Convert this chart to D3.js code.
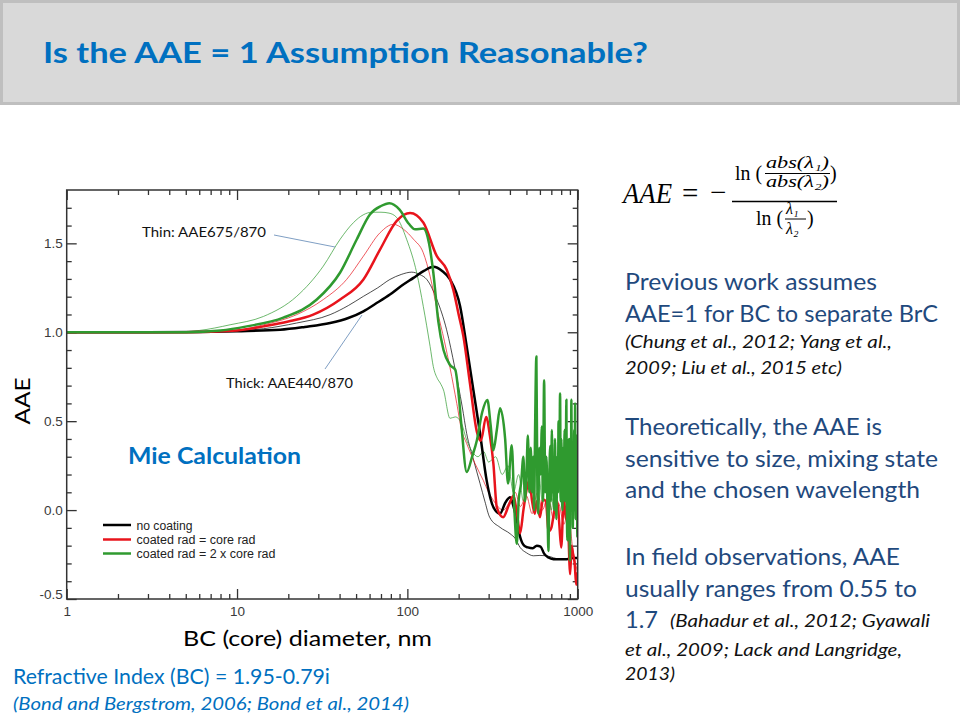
<!DOCTYPE html>
<html><head><meta charset="utf-8">
<script src="https://cdn.jsdelivr.net/npm/d3@7"></script>
<style>body{margin:0;background:#fff}svg{display:block}</style>
</head><body>
<svg id="c" width="960" height="720"></svg>
<script>
// ---------------- DATA ----------------
const xTickLabels = [1, 10, 100, 1000];
const yTickLabels = [-0.5, 0.0, 0.5, 1.0, 1.5];
const seriesNames = ["no coating", "coated rad = core rad", "coated rad = 2 x core rad"];
const seriesColors = ["#000000", "#e8141c", "#2f9a2f"];

// thick lines: AAE440/870  [diameter nm, AAE]
const noCoatThick = [[1,1.0],[3,1.0],[6,1.002],[10,1.006],[17.9,1.014],[25,1.03],[35.2,1.052],[45,1.08],[55.2,1.118],[65,1.16],[79,1.212],[92,1.26],[108.6,1.306],[125,1.345],[142,1.368],[160,1.345],[178,1.297],[204,1.146],[223,0.92],[244,0.675],[267,0.432],[292,0.167],[320,0.016],[350,-0.02],[375,0.04],[401,0.072],[420,0.02],[440,-0.06],[459,-0.15],[485,-0.2],[510,-0.21],[545,-0.215],[575,-0.2],[605,-0.205],[635,-0.245],[673,-0.267],[720,-0.276],[863,-0.276],[930,-0.27],[1000,-0.27]];
const coreThick = [[1,1.0],[5,1.0],[10,1.01],[14.3,1.033],[20,1.06],[28,1.099],[40.3,1.184],[55.2,1.297],[69.2,1.466],[86.6,1.626],[103.7,1.67],[124,1.617],[149,1.428],[170,1.353],[186,1.24],[200,1.1],[213,0.98],[233,0.713],[256,0.44],[270,0.39],[290,0.524],[305,0.42],[320,0.26],[335,0.016],[365,-0.04],[395,0.03],[420,0.08],[440,-0.02],[459,-0.13],[480,0.0],[500,0.11],[520,0.17],[540,0.05],[560,-0.02],[575,0.05],[600,-0.04],[625,0.06],[650,0.05],[675,-0.12],[700,-0.1],[730,0.0],[760,0.05],[780,-0.08],[800,-0.21],[830,0.08],[850,-0.05],[870,0.0],[903,-0.36],[920,-0.2],[940,-0.25],[960,-0.3],[980,-0.42],[1000,-0.35]];
const twoCoreThick = [[1,1.0],[5,1.0],[8,1.01],[11.4,1.033],[18.7,1.082],[29.4,1.184],[40.3,1.336],[50.5,1.523],[60.4,1.664],[70,1.71],[78.4,1.726],[90,1.69],[102,1.61],[111,1.579],[124,1.583],[134,1.5],[142,1.336],[152,1.06],[163,0.9],[178,0.816],[191,0.79],[200,0.65],[208,0.468],[223,0.214],[240,0.3],[256,0.393],[275,0.55],[295,0.619],[308,0.48],[320,0.336],[335,0.45],[350,0.572],[375,0.4],[390,0.15],[410,0.364],[425,0.0],[439,-0.19],[450,0.05],[465,0.15],[480,0.3],[490,0.05],[500,0.2],[510,0.42],[520,0.1],[530,0.35],[540,0.1],[548,0.3],[555,0.0],[562,0.45],[572,0.863],[580,0.1],[587,-0.02],[595,0.35],[605,0.2],[616,0.47],[625,0.05],[635,0.73],[645,0.1],[655,0.3],[665,0.0],[673,-0.23],[682,0.2],[690,0.36],[698,0.05],[705,0.45],[712,0.1],[720,0.3],[728,0.0],[735,0.4],[742,0.15],[750,-0.05],[758,0.3],[766,0.1],[772,0.5],[780,0.2],[788,0.656],[795,0.05],[802,0.4],[808,0.1],[815,0.0],[822,0.35],[830,0.15],[838,0.45],[845,0.05],[852,0.3],[858,0.62],[864,0.0],[870,-0.17],[876,0.3],[882,0.1],[888,0.4],[894,0.0],[900,-0.285],[906,0.25],[912,0.05],[918,0.62],[924,0.1],[930,0.35],[936,-0.1],[942,0.3],[948,0.0],[954,0.45],[960,0.1],[966,0.6],[972,-0.05],[978,0.35],[984,0.05],[990,0.42],[995,-0.15],[1000,0.3]];

// thin lines: AAE675/870
const noCoatThin = [[1,1.0],[5,1.0],[10,1.008],[14.3,1.02],[22.4,1.052],[35.2,1.099],[45,1.15],[55.2,1.202],[67,1.25],[79,1.297],[92,1.325],[106,1.338],[118,1.325],[130,1.297],[149,1.184],[170,1.014],[190,0.8],[210,0.58],[223,0.43],[245,0.28],[267,0.15],[285,0.05],[304,-0.04],[350,-0.097],[401,-0.133],[430,-0.16],[459,-0.21],[500,-0.24],[550,-0.257],[600,-0.255],[658,-0.257],[720,-0.268],[788,-0.276],[880,-0.275],[1000,-0.27]];
const coreThin = [[1,1.0],[5,1.0],[10,1.012],[14.3,1.042],[22.4,1.099],[32.1,1.184],[44,1.297],[55.2,1.428],[69.2,1.56],[82.8,1.607],[95,1.579],[108.6,1.523],[124,1.447],[136,1.315],[150,1.12],[165,0.95],[178,0.8],[195,0.6],[208,0.45],[223,0.374],[250,0.26],[279,0.167],[300,0.1],[320,0.054],[366,0.0],[400,0.05],[430,0.1],[460,0.02],[500,0.08],[540,-0.02],[580,0.1],[620,0.0],[670,0.08],[720,-0.05],[770,0.04],[830,-0.08],[880,0.0],[930,-0.2],[970,-0.3],[1000,-0.35]];
const twoCoreThin = [[1,1.0],[4,1.0],[6,1.01],[9.1,1.042],[14.3,1.089],[22.4,1.202],[32.1,1.372],[40.3,1.523],[48.3,1.617],[55,1.66],[62,1.675],[70,1.675],[78,1.67],[86.6,1.645],[99,1.523],[113.5,1.334],[124,1.146],[136,0.92],[142,0.807],[150,0.74],[156,0.714],[163,0.675],[178,0.516],[191,0.524],[208,0.487],[223,0.393],[240,0.33],[260,0.3],[280,0.33],[300,0.27],[330,0.3],[360,0.2],[390,0.25],[420,0.1],[450,0.2],[480,0.05],[510,0.25],[540,0.1],[580,0.3],[620,0.05],[660,0.25],[700,0.0],[750,0.3],[800,0.05],[850,0.3],[900,0.0],[950,0.25],[1000,0.1]];

// ---------------- CHART ----------------
const svg = d3.select("#c");
const sans = "Lato, 'Open Sans', sans-serif";
const arial = "'Liberation Sans', Arial, sans-serif";

// title bar
svg.append("rect").attr("x",1.5).attr("y",1.5).attr("width",957).attr("height",102)
  .attr("fill","#d9d9d9").attr("stroke","#bfbfbf").attr("stroke-width",3);
svg.append("text").attr("x",43).attr("y",63).attr("font-family",sans).attr("font-weight","bold")
  .attr("font-size",28).attr("fill","#0070c0").attr("textLength",605).attr("lengthAdjust","spacingAndGlyphs")
  .text("Is the AAE = 1 Assumption Reasonable?");

const X0=66.7, X1=577.7, Y0=190, Y1=599;
const x = d3.scaleLog().domain([1,1000]).range([X0,X1]);
const y = d3.scaleLinear().domain([-0.5,1.8]).range([Y1,Y0]);

const minorX = [];
[1,10,100].forEach(b=>{for(let k=2;k<=9;k++) minorX.push(b*k);});
const minorY = d3.range(-5,18).map(v=>v/10).filter(v=>Math.abs(v*2-Math.round(v*2))>1e-6);

const axisCol = "#333";
function styleAxis(g){ g.select(".domain").remove(); g.selectAll("line").attr("stroke",axisCol).attr("stroke-width",1.3);
  g.selectAll("text").attr("font-family",arial).attr("font-size",13.5).attr("fill","#3a3a3a"); }
const yFmt = d => d3.format(".1f")(d).replace("\u2212","-");

// bottom
svg.append("g").attr("transform",`translate(0,${Y1})`)
  .call(d3.axisBottom(x).tickValues(xTickLabels).tickSize(-10).tickPadding(7).tickFormat(d3.format("d"))).call(styleAxis);
svg.append("g").attr("transform",`translate(0,${Y1})`)
  .call(d3.axisBottom(x).tickValues(minorX).tickSize(-5).tickFormat("")).call(styleAxis);
// top
svg.append("g").attr("transform",`translate(0,${Y0})`)
  .call(d3.axisTop(x).tickValues(xTickLabels).tickSize(-10).tickFormat("")).call(styleAxis);
svg.append("g").attr("transform",`translate(0,${Y0})`)
  .call(d3.axisTop(x).tickValues(minorX).tickSize(-5).tickFormat("")).call(styleAxis);
// left
const gl = svg.append("g").attr("transform",`translate(${X0},0)`)
  .call(d3.axisLeft(y).tickValues(yTickLabels).tickSize(-10).tickPadding(4).tickFormat(yFmt)).call(styleAxis);
gl.selectAll(".tick").filter(d=>d===-0.5).select("text").attr("dy","-0.05em");
svg.append("g").attr("transform",`translate(${X0},0)`)
  .call(d3.axisLeft(y).tickValues(minorY).tickSize(-5).tickFormat("")).call(styleAxis);
// right
svg.append("g").attr("transform",`translate(${X1},0)`)
  .call(d3.axisRight(y).tickValues(yTickLabels).tickSize(-10).tickFormat("")).call(styleAxis);
svg.append("g").attr("transform",`translate(${X1},0)`)
  .call(d3.axisRight(y).tickValues(minorY).tickSize(-5).tickFormat("")).call(styleAxis);

// clip
svg.append("clipPath").attr("id","plotclip").append("rect")
  .attr("x",X0).attr("y",Y0).attr("width",X1-X0).attr("height",Y1-Y0);

const line = d3.line().x(d=>x(d[0])).y(d=>y(d[1])).curve(d3.curveMonotoneX);
const gc = svg.append("g").attr("clip-path","url(#plotclip)");
const thin = [noCoatThin, coreThin, twoCoreThin];
const thick = [noCoatThick, coreThick, twoCoreThick];
thin.forEach((s,i)=>gc.append("path").attr("d",line(s)).attr("fill","none")
  .attr("stroke",seriesColors[i]).attr("stroke-width",1).attr("stroke-opacity",0.7));
thick.forEach((s,i)=>gc.append("path").attr("d",line(s)).attr("fill","none")
  .attr("stroke",seriesColors[i]).attr("stroke-width",2.5).attr("stroke-linejoin","round"));

// frame
svg.append("rect").attr("x",X0).attr("y",Y0).attr("width",X1-X0).attr("height",Y1-Y0)
  .attr("fill","none").attr("stroke",axisCol).attr("stroke-width",1.5);

// legend
const legY = [525, 539.5, 553.5];
const legW = [56, 119, 139];
seriesNames.forEach((n,i)=>{
  svg.append("line").attr("x1",103).attr("x2",131).attr("y1",legY[i]).attr("y2",legY[i])
    .attr("stroke",seriesColors[i]).attr("stroke-width",2.5);
  svg.append("text").attr("x",136.5).attr("y",legY[i]+4.5).attr("font-family",arial).attr("font-size",12.5)
    .attr("fill","#222").attr("textLength",legW[i]).attr("lengthAdjust","spacingAndGlyphs").text(n);
});

// annotations
svg.append("line").attr("x1",274).attr("y1",235).attr("x2",335).attr("y2",247).attr("stroke","#7f9fc4").attr("stroke-width",1);
svg.append("line").attr("x1",325).attr("y1",369).attr("x2",362).attr("y2",315).attr("stroke","#7f9fc4").attr("stroke-width",1);
svg.append("text").attr("x",142).attr("y",237).attr("font-family",sans).attr("font-size",14).attr("fill","#111")
  .attr("textLength",124).attr("lengthAdjust","spacingAndGlyphs").text("Thin: AAE675/870");
svg.append("text").attr("x",226).attr("y",388).attr("font-family",sans).attr("font-size",14).attr("fill","#111")
  .attr("textLength",127).attr("lengthAdjust","spacingAndGlyphs").text("Thick: AAE440/870");
svg.append("text").attr("x",128).attr("y",464).attr("font-family",sans).attr("font-weight","bold").attr("font-size",23)
  .attr("fill","#0070c0").attr("textLength",173).attr("lengthAdjust","spacingAndGlyphs").text("Mie Calculation");

// axis titles
svg.append("text").attr("transform","translate(30,401) rotate(-90)").attr("text-anchor","middle")
  .attr("font-family",sans).attr("font-size",22).attr("fill","#000")
  .attr("textLength",47).attr("lengthAdjust","spacingAndGlyphs").text("AAE");
svg.append("text").attr("x",183).attr("y",646).attr("font-family",sans).attr("font-size",22).attr("fill","#000")
  .attr("textLength",249).attr("lengthAdjust","spacingAndGlyphs").text("BC (core) diameter, nm");

// bottom-left notes
svg.append("text").attr("x",13).attr("y",684).attr("font-family",sans).attr("font-size",21).attr("fill","#0070c0")
  .attr("textLength",317).attr("lengthAdjust","spacingAndGlyphs").text("Refractive Index (BC) = 1.95-0.79i");
svg.append("text").attr("x",13).attr("y",710).attr("font-family",sans).attr("font-style","italic").attr("font-size",17).attr("fill","#0070c0")
  .attr("textLength",396).attr("lengthAdjust","spacingAndGlyphs").text("(Bond and Bergstrom, 2006; Bond et al., 2014)");

// right text
const body = "#1f497d";
const rightLines = [
  {t:"Previous work assumes", x:625, y:290, w:252, s:24, c:body, i:false},
  {t:"AAE=1 for BC to separate BrC", x:625, y:322, w:313, s:24, c:body, i:false},
  {t:"(Chung et al., 2012; Yang et al.,", x:625, y:348, w:267, s:18, c:"#111", i:true},
  {t:"2009; Liu et al., 2015 etc)", x:625, y:374, w:217, s:18, c:"#111", i:true},
  {t:"Theoretically, the AAE is", x:625, y:435, w:257, s:24, c:body, i:false},
  {t:"sensitive to size, mixing state", x:625, y:467, w:313, s:24, c:body, i:false},
  {t:"and the chosen wavelength", x:625, y:498, w:295, s:24, c:body, i:false},
  {t:"In field observations, AAE", x:625, y:565, w:275, s:24, c:body, i:false},
  {t:"usually ranges from 0.55 to", x:625, y:597, w:292, s:24, c:body, i:false},
  {t:"1.7", x:625, y:628, w:33, s:24, c:body, i:false},
  {t:"(Bahadur et al., 2012; Gyawali", x:670, y:627, w:260, s:18, c:"#111", i:true},
  {t:"et al., 2009; Lack and Langridge,", x:625, y:656, w:277, s:18, c:"#111", i:true},
  {t:"2013)", x:625, y:680, w:50, s:18, c:"#111", i:true}
];
rightLines.forEach(l=>svg.append("text").attr("x",l.x).attr("y",l.y).attr("font-family",sans)
  .attr("font-size",l.s).attr("font-style",l.i?"italic":"normal").attr("fill",l.c)
  .attr("textLength",l.w).attr("lengthAdjust","spacingAndGlyphs").text(l.t));

// formula
const serif = "'Liberation Serif', 'DejaVu Serif', serif";
const f = svg.append("g").attr("font-family",serif).attr("fill","#000");
f.append("text").attr("x",623).attr("y",203).attr("font-size",29).attr("font-style","italic")
  .attr("textLength",49).attr("lengthAdjust","spacingAndGlyphs").text("AAE");
f.append("text").attr("x",682).attr("y",203).attr("font-size",29).text("=");
f.append("text").attr("x",710).attr("y",202).attr("font-size",29).text("\u2212");
f.append("line").attr("x1",732).attr("x2",837).attr("y1",201.5).attr("y2",201.5).attr("stroke","#000").attr("stroke-width",1.3);
f.append("text").attr("x",735).attr("y",180).attr("font-size",20).attr("textLength",27).attr("lengthAdjust","spacingAndGlyphs").text("ln (");
f.append("text").attr("x",766).attr("y",168).attr("font-size",16).attr("font-style","italic")
  .attr("textLength",63).attr("lengthAdjust","spacingAndGlyphs").text("abs(\u03bb\u2081)");
f.append("line").attr("x1",765).attr("x2",830).attr("y1",173.5).attr("y2",173.5).attr("stroke","#000").attr("stroke-width",1);
f.append("text").attr("x",766).attr("y",187).attr("font-size",16).attr("font-style","italic")
  .attr("textLength",63).attr("lengthAdjust","spacingAndGlyphs").text("abs(\u03bb\u2082)");
f.append("text").attr("x",830).attr("y",180).attr("font-size",20).text(")");
f.append("text").attr("x",756).attr("y",225).attr("font-size",20).attr("textLength",27).attr("lengthAdjust","spacingAndGlyphs").text("ln (");
f.append("text").attr("x",786).attr("y",214).attr("font-size",16).attr("font-style","italic").text("\u03bb\u2081");
f.append("line").attr("x1",785).attr("x2",806).attr("y1",219).attr("y2",219).attr("stroke","#000").attr("stroke-width",1);
f.append("text").attr("x",786).attr("y",234).attr("font-size",16).attr("font-style","italic").text("\u03bb\u2082");
f.append("text").attr("x",807).attr("y",225).attr("font-size",20).text(")");
</script>
</body></html>
